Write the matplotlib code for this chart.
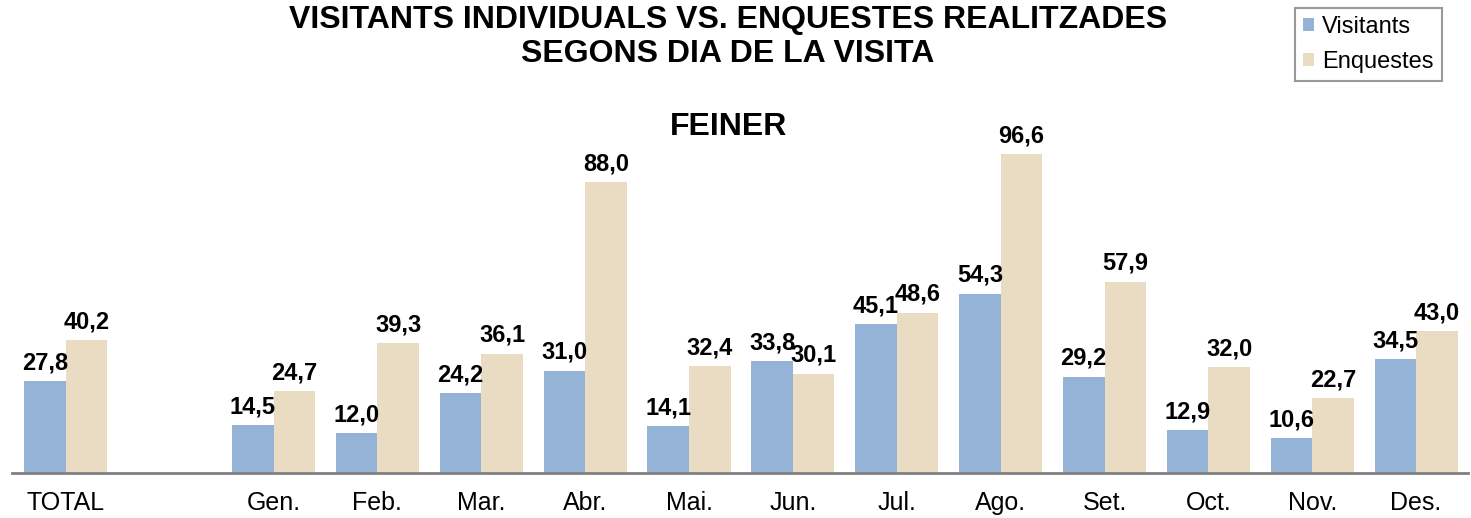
import numpy as np
import matplotlib.pyplot as plt

plt.rcParams['font.family'] = ['Liberation Sans', 'DejaVu Sans']

# --- data ---
categories = ['TOTAL', '', 'Gen.', 'Feb.', 'Mar.', 'Abr.', 'Mai.', 'Jun.',
              'Jul.', 'Ago.', 'Set.', 'Oct.', 'Nov.', 'Des.']
visitants = [27.8, None, 14.5, 12.0, 24.2, 31.0, 14.1, 33.8,
             45.1, 54.3, 29.2, 12.9, 10.6, 34.5]
enquestes = [40.2, None, 24.7, 39.3, 36.1, 88.0, 32.4, 30.1,
             48.6, 96.6, 57.9, 32.0, 22.7, 43.0]

blue = '#95B3D7'
beige = '#E9DCC2'

fig = plt.figure(figsize=(14.71, 5.18), dpi=100)
ax = fig.add_axes([0.008, 0.087, 0.99, 0.72])

x = np.arange(len(categories))
w = 0.4
idx = [i for i, v in enumerate(visitants) if v is not None]
v_vals = [visitants[i] for i in idx]
e_vals = [enquestes[i] for i in idx]

b1 = ax.bar(x[idx] - w / 2, v_vals, w, color=blue, label='Visitants')
b2 = ax.bar(x[idx] + w / 2, e_vals, w, color=beige, label='Enquestes')

for bars, vals in ((b1, v_vals), (b2, e_vals)):
    for b, v in zip(bars, vals):
        ax.annotate(f'{v:.1f}'.replace('.', ','),
                    (b.get_x() + b.get_width() / 2, v),
                    xytext=(0, 5), textcoords='offset points',
                    ha='center', va='bottom', fontsize=17, fontweight='bold')

ax.set_xlim(-0.52, 13.5)
ax.set_ylim(0, 113)
ax.set_xticks(x)
ax.set_xticklabels(categories, fontsize=18)
ax.tick_params(axis='x', length=0, pad=13)
ax.set_yticks([])
for s in ['top', 'right', 'left']:
    ax.spines[s].set_visible(False)
ax.spines['bottom'].set_color('#808080')
ax.spines['bottom'].set_linewidth(2)

fig.text(0.495, 0.99, 'VISITANTS INDIVIDUALS VS. ENQUESTES REALITZADES\nSEGONS DIA DE LA VISITA',
         ha='center', va='top', fontsize=23, fontweight='bold', linespacing=1.15)
fig.text(0.495, 0.755, 'FEINER', ha='center', va='center', fontsize=23, fontweight='bold')

leg = fig.legend(handles=[b1, b2], loc='upper right', bbox_to_anchor=(0.98, 0.985),
                 fontsize=17, handlelength=0.45, handleheight=0.45, handletextpad=0.35,
                 labelspacing=0.55, fancybox=False, edgecolor='#808080', borderpad=0.35,
                 borderaxespad=0)
leg.get_frame().set_linewidth(1.5)

fig.savefig('out.png', dpi=100)
